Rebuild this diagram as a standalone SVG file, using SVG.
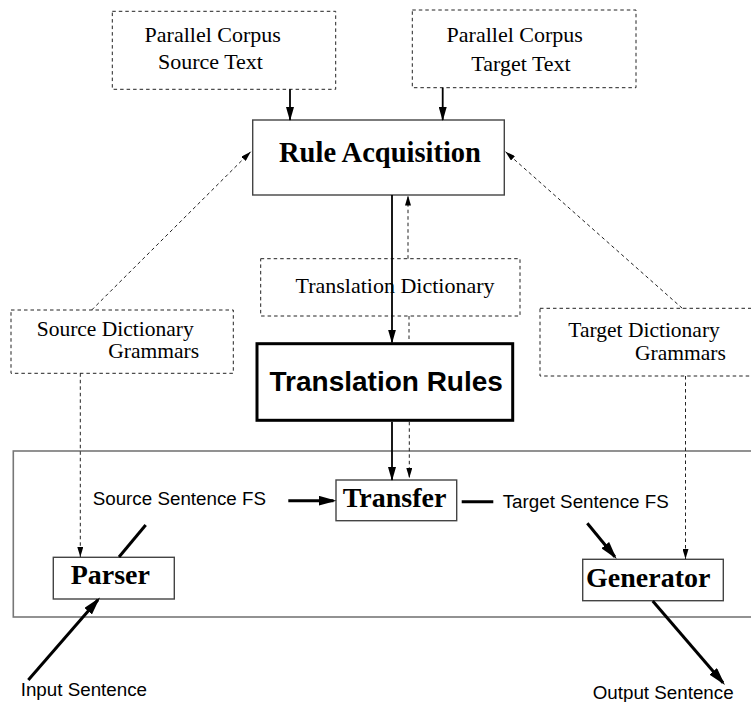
<svg xmlns="http://www.w3.org/2000/svg" width="751" height="702" viewBox="0 0 751 702">
<style>
.serif{font-family:"Liberation Serif","Times New Roman",serif;fill:#000}
.sans{font-family:"Liberation Sans",Arial,sans-serif;fill:#000}
.dbox{fill:#fff;stroke:#222;stroke-width:1;stroke-dasharray:3.5 3}
.box{fill:#fff;stroke:#444;stroke-width:1.4}
.thin{stroke:#000;stroke-width:1.8;fill:none}
.dash{stroke:#222;stroke-width:1;stroke-dasharray:3.5 3;fill:none}
.thick{stroke:#000;stroke-width:3;fill:none}
</style>
<defs>
<marker id="ah" viewBox="0 0 14 8" markerWidth="14" markerHeight="8" refX="13" refY="4" orient="auto" markerUnits="userSpaceOnUse"><path d="M0,0 L14,4 L0,8 Z" fill="#000"/></marker>
<marker id="ahd" viewBox="0 0 10 6" markerWidth="10" markerHeight="6" refX="10" refY="3" orient="auto" markerUnits="userSpaceOnUse"><path d="M0,0 L10,3 L0,6 Z" fill="#000"/></marker>
<marker id="aht" viewBox="0 0 18 10" markerWidth="18" markerHeight="10" refX="15" refY="5" orient="auto" markerUnits="userSpaceOnUse"><path d="M0,0 L18,5 L0,10 Z" fill="#000"/></marker>
</defs>
<rect width="751" height="702" fill="#fff"/>

<g id="container">
<rect x="13.3" y="451" width="750" height="166" fill="none" stroke="#777" stroke-width="1.6"/>
</g>

<g id="source-corpus">
<rect class="dbox" x="112.3" y="11.3" width="223.4" height="78"/>
<text class="serif" x="212.7" y="41.7" font-size="22" text-anchor="middle">Parallel Corpus</text>
<text class="serif" x="210.5" y="68.5" font-size="22" text-anchor="middle">Source Text</text>
</g>

<g id="target-corpus">
<rect class="dbox" x="412.3" y="10" width="223.7" height="77.7"/>
<text class="serif" x="514.7" y="41.7" font-size="22" text-anchor="middle">Parallel Corpus</text>
<text class="serif" x="521" y="70.5" font-size="22" text-anchor="middle">Target Text</text>
</g>

<g id="rule-acquisition">
<rect class="box" x="252.7" y="120" width="251.6" height="75" stroke="#333"/>
<text class="serif" x="380" y="162" font-size="28.5" font-weight="bold" text-anchor="middle">Rule Acquisition</text>
</g>

<g id="translation-dictionary">
<rect class="dbox" x="260.7" y="258.7" width="259.3" height="57.3"/>
<text class="serif" x="395" y="293.3" font-size="22" text-anchor="middle">Translation Dictionary</text>
</g>

<g id="source-dictionary">
<rect class="dbox" x="11" y="310" width="222.3" height="63.3"/>
<text class="serif" x="36.7" y="335.5" font-size="21.5">Source Dictionary</text>
<text class="serif" x="108.3" y="358" font-size="21.5">Grammars</text>
</g>

<g id="target-dictionary">
<rect class="dbox" x="540" y="308.3" width="230" height="67.7"/>
<text class="serif" x="568.3" y="336.5" font-size="21.5">Target Dictionary</text>
<text class="serif" x="635" y="360" font-size="21.5">Grammars</text>
</g>

<g id="translation-rules">
<rect x="257" y="343.7" width="255.7" height="76.6" fill="#fff" stroke="#000" stroke-width="3"/>
<text class="sans" x="269.5" y="390.7" font-size="28" font-weight="bold">Translation Rules</text>
</g>

<g id="transfer">
<rect class="box" x="336" y="480" width="120.7" height="40.7"/>
<text class="serif" x="342.7" y="507" font-size="28" font-weight="bold">Transfer</text>
</g>

<g id="parser">
<rect class="box" x="53.3" y="557.3" width="121" height="41.7"/>
<text class="serif" x="70.7" y="583.5" font-size="28" font-weight="bold">Parser</text>
</g>

<g id="generator">
<rect class="box" x="582.7" y="559.3" width="140.6" height="41.4"/>
<text class="serif" x="586" y="587" font-size="28" font-weight="bold">Generator</text>
</g>

<g id="labels">
<text class="sans" x="92.7" y="505" font-size="18.8">Source Sentence FS</text>
<text class="sans" x="502.7" y="508" font-size="18.8">Target Sentence FS</text>
<text class="sans" x="20.7" y="696" font-size="18.8">Input Sentence</text>
<text class="sans" x="592.7" y="699" font-size="18.8">Output Sentence</text>
</g>

<g id="connectors">
<line class="thin" x1="290" y1="89.3" x2="290" y2="120" marker-end="url(#ah)"/>
<line class="thin" x1="442.7" y1="87.7" x2="442.7" y2="120" marker-end="url(#ah)"/>
<line class="dash" x1="91.7" y1="310" x2="250.7" y2="151.7" marker-end="url(#ahd)"/>
<line class="dash" x1="682.3" y1="308.3" x2="505.5" y2="151.7" marker-end="url(#ahd)"/>
<line class="thin" x1="392" y1="195" x2="392" y2="342.5" marker-end="url(#ah)"/>
<line class="dash" x1="408" y1="258.7" x2="408" y2="195.5" marker-end="url(#ahd)"/>
<line class="dash" x1="409" y1="316" x2="409" y2="342.2"/>
<line class="thin" x1="392" y1="421.8" x2="392" y2="480" marker-end="url(#ah)"/>
<line class="dash" x1="409.3" y1="421.8" x2="409.3" y2="478" marker-end="url(#ahd)"/>
<line class="dash" x1="80.3" y1="373.3" x2="80.3" y2="557" marker-end="url(#ahd)"/>
<line class="dash" x1="685.5" y1="376" x2="685.5" y2="559" marker-end="url(#ahd)"/>
<line class="thick" x1="288.3" y1="500.7" x2="333.5" y2="500.7" marker-end="url(#aht)"/>
<line class="thick" x1="119" y1="557" x2="145.7" y2="525"/>
<line class="thick" x1="461.7" y1="501.7" x2="493.3" y2="501.7"/>
<line class="thick" x1="587.3" y1="523.3" x2="614.8" y2="556.7" marker-end="url(#aht)"/>
<line class="thick" x1="28.3" y1="680" x2="98" y2="599.8" marker-end="url(#aht)"/>
<line class="thick" x1="652.7" y1="601" x2="723" y2="682.7" marker-end="url(#aht)"/>
</g>
</svg>
